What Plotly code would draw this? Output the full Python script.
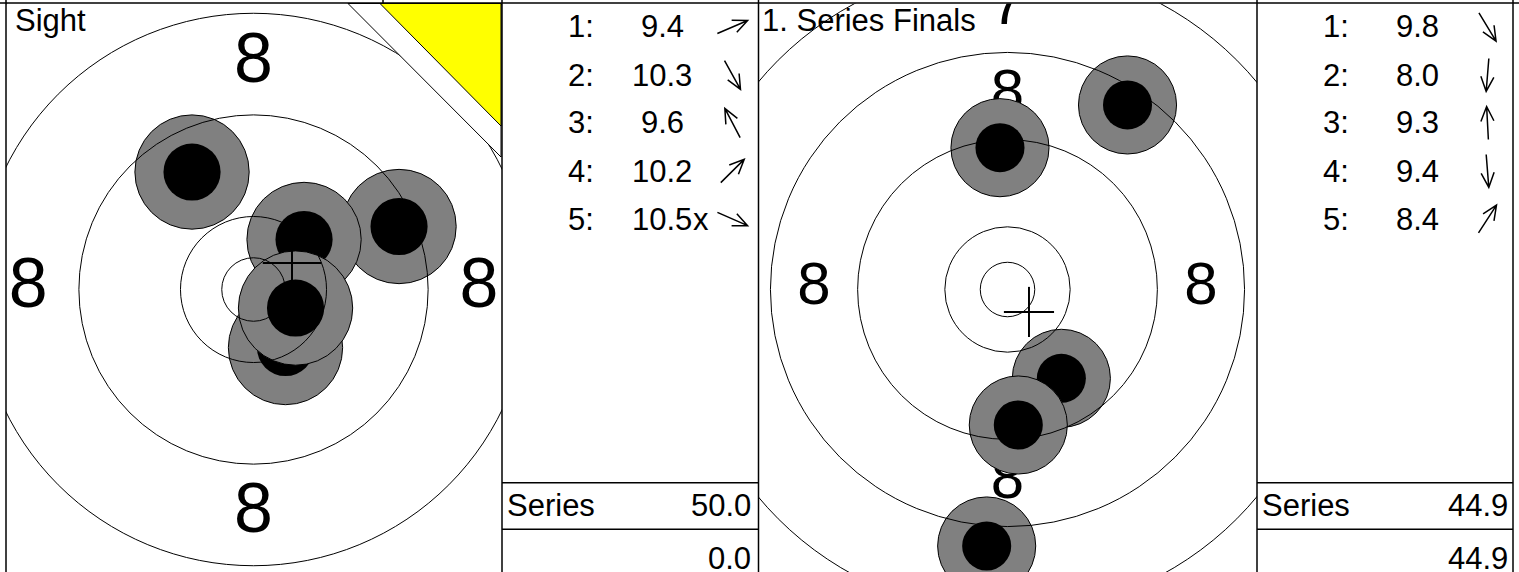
import math
import plotly.graph_objects as go

W, H = 1519, 572

# ---------------- data ----------------
panel_titles = ["Sight", "1. Series Finals"]

# ISSF 10 m air pistol rings (radius, mm): inner ten, 10, 9, 8, 7
ring_radii_mm = [2.5, 5.75, 13.75, 21.75, 29.75]
ring_label_text = ["8", "7"]
ring_label_dist_mm = [17.75, 25.75]

# shot positions (mm from centre, y up), in shot order
shots1_x = [11.46, 2.52, -4.84, 3.98, 3.31]
shots1_y = [4.96, -4.57, 9.25, 3.94, -1.46]
shots1_score = ["9.4", "10.3", "9.6", "10.2", "10.5"]
shots1_inner = [False, False, False, False, True]

shots2_x = [4.94, -1.91, -0.69, 0.99, 11.01]
shots2_y = [-8.15, -23.53, 13.01, -12.43, 16.93]
shots2_score = ["9.8", "8.0", "9.3", "9.4", "8.4"]
shots2_inner = [False, False, False, False, False]

group_center_x = [3.03, 1.97]
group_center_y = [2.09, -2.06]

series_label = "Series"
series_totals = ["50.0", "44.9"]
running_totals = ["0.0", "44.9"]

pellet_radius_mm = 2.25
halo_radius_mm = 4.5
cross_half_mm = 2.3
label_font_mm = 5.5

# ---------------- layout geometry (pixels) ----------------
FONT = "Liberation Sans, Arial, Helvetica, sans-serif"
TOP = 3.5
panels = [
    dict(left=6, right=502, cx=253.5, cy=289.5, scale=12.7, xa="x", ya="y"),
    dict(left=758.5, right=1257, cx=1007.5, cy=289.5, scale=10.9, xa="x2", ya="y2"),
]
tables = [
    dict(left=502, right=758.5, text_right=751),
    dict(left=1257, right=1513, text_right=1508),
]
shots = [
    (shots1_x, shots1_y, shots1_score, shots1_inner),
    (shots2_x, shots2_y, shots2_score, shots2_inner),
]


def px(x):
    return x / W


def py(y):
    return 1 - y / H


fig = go.Figure()
shapes = []
annotations = []

for i, p in enumerate(panels):
    s = p["scale"]
    xr = [(p["left"] - p["cx"]) / s, (p["right"] - p["cx"]) / s]
    yr = [(p["cy"] - H) / s, (p["cy"] - TOP) / s]
    axkey = "xaxis" if i == 0 else "xaxis2"
    aykey = "yaxis" if i == 0 else "yaxis2"
    fig.update_layout({
        axkey: dict(domain=[px(p["left"]), px(p["right"])], range=xr, visible=False,
                    fixedrange=True, anchor=p["ya"]),
        aykey: dict(domain=[0, py(TOP)], range=yr, visible=False, fixedrange=True,
                    anchor=p["xa"]),
    })

    # ring numbers (under the shots); keep only those whose centre lies in view
    lx, ly, lt = [], [], []
    for txt, d in zip(ring_label_text, ring_label_dist_mm):
        for ux, uy in [(0, 1), (-1, 0), (1, 0), (0, -1)]:
            x, y = ux * d, uy * d
            if xr[0] <= x <= xr[1] and yr[0] <= y <= yr[1]:
                lx.append(x)
                ly.append(y)
                lt.append(txt)
    fig.add_trace(go.Scatter(
        x=lx, y=ly, text=lt, mode="text", textposition="middle center",
        textfont=dict(size=label_font_mm * s, family=FONT, color="black"),
        xaxis=p["xa"], yaxis=p["ya"], hoverinfo="skip", showlegend=False,
        cliponaxis=True,
    ))

    sx, sy, _, _ = shots[i]
    for x, y in zip(sx, sy):
        shapes.append(dict(type="circle", xref=p["xa"], yref=p["ya"], layer="above",
                           x0=x - halo_radius_mm, x1=x + halo_radius_mm,
                           y0=y - halo_radius_mm, y1=y + halo_radius_mm,
                           fillcolor="#808080", line=dict(color="black", width=1)))
        shapes.append(dict(type="circle", xref=p["xa"], yref=p["ya"], layer="above",
                           x0=x - pellet_radius_mm, x1=x + pellet_radius_mm,
                           y0=y - pellet_radius_mm, y1=y + pellet_radius_mm,
                           fillcolor="black", line=dict(color="black", width=0)))
    for r in ring_radii_mm:
        shapes.append(dict(type="circle", xref=p["xa"], yref=p["ya"], layer="above",
                           x0=-r, x1=r, y0=-r, y1=r,
                           line=dict(color="black", width=1)))
    gx, gy = group_center_x[i], group_center_y[i]
    shapes.append(dict(type="line", xref=p["xa"], yref=p["ya"], layer="above",
                       x0=gx - cross_half_mm, x1=gx + cross_half_mm, y0=gy, y1=gy,
                       line=dict(color="black", width=2)))
    shapes.append(dict(type="line", xref=p["xa"], yref=p["ya"], layer="above",
                       x0=gx, x1=gx, y0=gy - cross_half_mm, y1=gy + cross_half_mm,
                       line=dict(color="black", width=2)))

    # panel title
    annotations.append(dict(text=panel_titles[i], xref="paper", yref="paper",
                            x=px(p["left"] + (7 if i == 0 else 1)), y=py(20),
                            xanchor="left", yanchor="middle", showarrow=False,
                            font=dict(size=31, family=FONT, color="black")))

# sighting-target corner marker (panel 1)
shapes.append(dict(type="path", xref="paper", yref="paper", layer="above",
                   path=f"M {px(348)} {py(TOP)} L {px(501)} {py(157)} L {px(501)} {py(TOP)} Z",
                   fillcolor="white", line=dict(color="black", width=1)))
shapes.append(dict(type="path", xref="paper", yref="paper", layer="above",
                   path=f"M {px(380)} {py(TOP)} L {px(501)} {py(126)} L {px(501)} {py(TOP)} Z",
                   fillcolor="#FFFF00", line=dict(color="black", width=1)))

# tables
ROW0, ROWSTEP = 27, 48
ARROW_LEN, HEAD_LEN, HEAD_ANG = 33, 16, math.radians(24)
for i, t in enumerate(tables):
    sx, sy, sc, inner = shots[i]
    for k in range(len(sc)):
        yc = ROW0 + ROWSTEP * k
        annotations.append(dict(text=f"{k + 1}:", xref="paper", yref="paper",
                                x=px(t["left"] + 63.5), y=py(yc), xanchor="left",
                                yanchor="middle", showarrow=False,
                                font=dict(size=31, family=FONT, color="black")))
        vc = t["left"] + 160
        annotations.append(dict(text=sc[k], xref="paper", yref="paper",
                                x=px(vc), y=py(yc), xanchor="center",
                                yanchor="middle", showarrow=False,
                                font=dict(size=31, family=FONT, color="black")))
        if inner[k]:
            w = sum(0.278 if ch == "." else 0.556 for ch in sc[k]) * 31
            annotations.append(dict(text="x", xref="paper", yref="paper",
                                    x=px(vc + w / 2 - 1), y=py(yc), xanchor="left",
                                    yanchor="middle", showarrow=False,
                                    font=dict(size=31, family=FONT, color="black")))
        # direction arrow (shot direction from centre)
        a = math.atan2(sy[k], sx[k])
        ux, uy = math.cos(a), -math.sin(a)
        cx, cy = t["left"] + 230.5, yc
        x0, y0 = cx - ux * ARROW_LEN / 2, cy - uy * ARROW_LEN / 2
        x1, y1 = cx + ux * ARROW_LEN / 2, cy + uy * ARROW_LEN / 2
        back = math.atan2(-uy, -ux)
        h1 = (x1 + HEAD_LEN * math.cos(back + HEAD_ANG), y1 + HEAD_LEN * math.sin(back + HEAD_ANG))
        h2 = (x1 + HEAD_LEN * math.cos(back - HEAD_ANG), y1 + HEAD_LEN * math.sin(back - HEAD_ANG))
        path = (f"M {px(x0)} {py(y0)} L {px(x1)} {py(y1)} "
                f"M {px(h1[0])} {py(h1[1])} L {px(x1)} {py(y1)} L {px(h2[0])} {py(h2[1])}")
        shapes.append(dict(type="path", xref="paper", yref="paper", layer="above",
                           path=path, line=dict(color="black", width=1.5)))
    # summary rows
    for yl in (482.7, 529.3):
        shapes.append(dict(type="line", xref="paper", yref="paper", layer="above",
                           x0=px(t["left"]), x1=px(t["right"]), y0=py(yl), y1=py(yl),
                           line=dict(color="black", width=1.5)))
    annotations.append(dict(text=series_label, xref="paper", yref="paper",
                            x=px(t["left"] + 3), y=py(505), xanchor="left",
                            yanchor="middle", showarrow=False,
                            font=dict(size=31, family=FONT, color="black")))
    annotations.append(dict(text=series_totals[i], xref="paper", yref="paper",
                            x=px(t["text_right"] + 2), y=py(505), xanchor="right",
                            yanchor="middle", showarrow=False,
                            font=dict(size=31, family=FONT, color="black")))
    annotations.append(dict(text=running_totals[i], xref="paper", yref="paper",
                            x=px(t["text_right"] + 2), y=py(558), xanchor="right",
                            yanchor="middle", showarrow=False,
                            font=dict(size=31, family=FONT, color="black")))

# frame lines
for xv in (6, 502, 758.5, 1257, 1513):
    shapes.append(dict(type="line", xref="paper", yref="paper", layer="above",
                       x0=px(xv), x1=px(xv), y0=py(0), y1=py(H),
                       line=dict(color="black", width=1.5)))
shapes.append(dict(type="line", xref="paper", yref="paper", layer="above",
                   x0=px(0), x1=px(W), y0=py(TOP - 0.5), y1=py(TOP - 0.5),
                   line=dict(color="black", width=1.5)))
shapes.append(dict(type="line", xref="paper", yref="paper", layer="above",
                   x0=px(383), x1=px(383), y0=py(0), y1=py(TOP),
                   line=dict(color="black", width=1.5)))

fig.update_layout(
    width=W, height=H, margin=dict(l=0, r=0, t=0, b=0, pad=0),
    paper_bgcolor="white", plot_bgcolor="white",
    shapes=shapes, annotations=annotations, showlegend=False, hovermode=False,
)

fig.write_html("out.html", config={"displayModeBar": False},
               post_script="document.body.style.margin='0px';document.body.style.overflow='hidden';")
